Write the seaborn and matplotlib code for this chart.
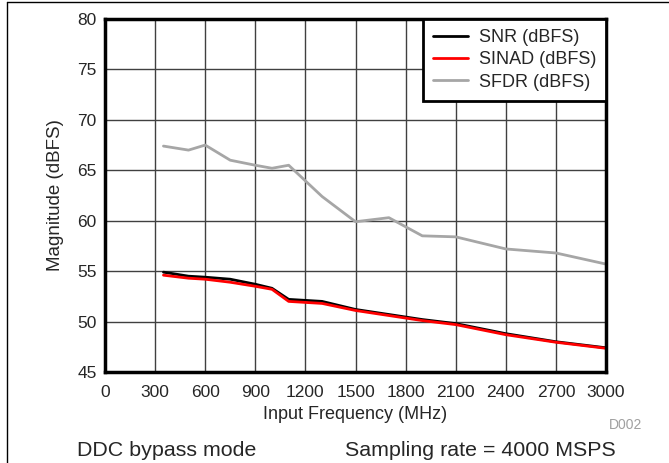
import numpy as np
import pandas as pd
import matplotlib
matplotlib.use('Agg')
import matplotlib.pyplot as plt
from matplotlib.lines import Line2D
import seaborn as sns

# data
freq = [350, 500, 600, 750, 900, 1000, 1100, 1300, 1500, 1700, 1900, 2100, 2400, 2700, 3000]
snr = [54.9, 54.5, 54.4, 54.2, 53.7, 53.3, 52.2, 52.0, 51.2, 50.7, 50.2, 49.8, 48.8, 48.0, 47.4]
sinad = [54.6, 54.3, 54.2, 53.9, 53.5, 53.2, 52.0, 51.8, 51.1, 50.6, 50.1, 49.7, 48.7, 47.95, 47.35]
sfdr = [67.4, 67.0, 67.5, 66.0, 65.5, 65.2, 65.5, 62.4, 59.9, 60.3, 58.5, 58.4, 57.2, 56.8, 55.7]
series_names = ['SNR (dBFS)', 'SINAD (dBFS)', 'SFDR (dBFS)']
colors = ['#000000', '#ff0000', '#a6a6a6']
x_ticks = list(range(0, 3001, 300))
y_ticks = list(range(45, 81, 5))

sns.set_style('white')
plt.rcParams['font.family'] = ['Liberation Sans', 'DejaVu Sans']

df = pd.DataFrame({
    'freq': freq * 3,
    'value': snr + sinad + sfdr,
    'series': [series_names[0]] * len(freq) + [series_names[1]] * len(freq) + [series_names[2]] * len(freq),
})

W, H = 669, 463
fig = plt.figure(figsize=(W / 100, H / 100), dpi=100)
# axes box: left 105, right 606, top 19, bottom 372 (pixels)
ax = fig.add_axes([105 / W, 1 - 372 / H, 501 / W, 353 / H])

sns.lineplot(data=df, x='freq', y='value', hue='series', hue_order=series_names,
             palette=dict(zip(series_names, colors)), linewidth=2, ax=ax, zorder=3)

ax.set_xlim(0, 3000)
ax.set_ylim(45, 80)
ax.set_xticks(x_ticks)
ax.set_yticks(y_ticks)
ax.tick_params(axis='x', labelsize=12.5, length=0, pad=9.5)
ax.tick_params(axis='y', labelsize=12.5, length=0, pad=6)
ax.grid(True, color='#404040', linewidth=1)
for s in ax.spines.values():
    s.set_color('black')
    s.set_linewidth(2.5)
    s.set_zorder(5)

ax.set_xlabel('Input Frequency (MHz)', fontsize=13)
ax.xaxis.set_label_coords(0.5, (372 - 419) / 353)
ax.xaxis.label.set_va('baseline')
ax.set_ylabel('Magnitude (dBFS)', fontsize=13.5)
ax.yaxis.set_label_coords((55.5 - 105) / 501, 0.5)
ax.yaxis.label.set_va('center')

leg = ax.legend(loc='upper right', bbox_to_anchor=(1, 1), borderaxespad=0,
                fontsize=13, fancybox=False, framealpha=1, handlelength=1.95,
                labelspacing=0.3, borderpad=0.55, handletextpad=0.6)
leg.get_frame().set_edgecolor('black')
leg.get_frame().set_linewidth(2)
leg.set_zorder(6)

fig.text(642 / W, 1 - 425 / H, 'D002', ha='right', va='center', fontsize=10, color='#a0a0a0')
fig.text(77 / W, 1 - 456.5 / H, 'DDC bypass mode', ha='left', va='baseline', fontsize=15.4)
fig.text(616 / W, 1 - 456.5 / H, 'Sampling rate = 4000 MSPS', ha='right', va='baseline', fontsize=15.4)

# outer frame (top and left edges visible)
fig.add_artist(Line2D([7 / W, 1], [1 - 2 / H] * 2, color='black', linewidth=1))
fig.add_artist(Line2D([7 / W] * 2, [0, 1 - 2 / H], color='black', linewidth=1))

fig.savefig('out.png', dpi=100)
